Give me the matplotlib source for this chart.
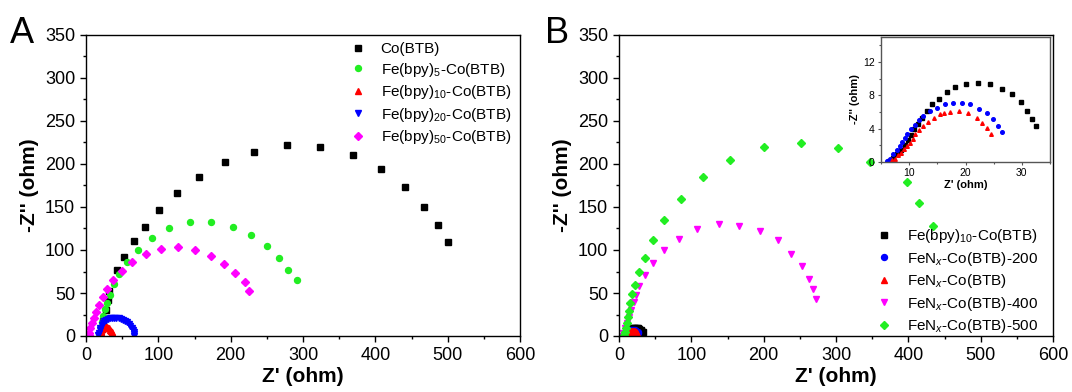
"""Nyquist plots (EIS) for Co(BTB) derived samples, panels A and B with inset."""
import matplotlib
matplotlib.use("Agg")
import matplotlib.pyplot as plt
from matplotlib.ticker import MultipleLocator

# ---- panel A data (Z', -Z'') ------------------------------------------- #
co_x = [20, 22, 24, 27, 30, 32, 43.5, 53.1, 66.5, 82.2, 100.9, 126.2, 156.8,
        191.7, 231.9, 277.3, 324.1, 369.1, 408.3, 441.3, 467.6, 486.7, 500.6]
co_y = [2, 8, 18, 30, 42, 52.7, 76.7, 91.9, 110.1, 127.1, 146.5, 166.3, 184.5,
        201.9, 214.3, 221.7, 219.4, 210.9, 193.8, 172.9, 150, 129, 109.3]

fe5_x = [19, 19.6, 20.6, 22, 23.9, 26.3, 29.2, 32.5, 38.2, 45.9, 56.4, 71.7,
         91.3, 115.2, 143.9, 173.5, 202.7, 228.5, 249.6, 266.8, 279.7, 291.1]
fe5_y = [1.2, 5, 10.9, 16.7, 23.3, 31, 38.8, 47.7, 60.1, 72.1, 85.7, 100,
         114.3, 125.2, 132.2, 132.2, 127.1, 117.1, 104.3, 90.7, 77.1, 64.7]

fe10_x = [19, 19.5, 20.2, 21, 22, 23.2, 24.5, 26, 27.5, 29, 30.5, 32, 33.3,
          34.5, 35.5, 36.3, 37]
fe10_y = [0.5, 2.5, 4.5, 6.3, 7.8, 9, 9.9, 10.4, 10.5, 10.3, 9.7, 8.8, 7.5,
          6, 4.3, 2.5, 0.8]

fe20_x = [17, 17.8, 18.8, 20, 21.5, 23, 25, 27.5, 30, 33, 36, 39, 42, 45, 48,
          51, 54, 56.8, 59.2, 61.3, 63, 64.6, 65.8, 66.6, 67]
fe20_y = [0.8, 3.5, 6.5, 9.5, 12.3, 14.8, 16.9, 18.6, 19.7, 20.5, 20.9, 21,
          20.9, 20.6, 20, 19.1, 17.7, 16, 14, 11.8, 9.4, 6.9, 4.4, 2.2, 0.5]

fe50_x = [3.8, 4.8, 6.2, 8.1, 11, 14.3, 18.2, 22.9, 29.2, 37.3, 49.2, 64.1,
          82.7, 103.7, 127.6, 151.1, 173.1, 190.8, 206.1, 219.4, 225.2]
fe50_y = [0.8, 3.9, 8.9, 14.7, 21.3, 28.3, 36, 45, 54.3, 65.1, 76, 86.4,
          95.3, 100.8, 103.1, 100, 93, 83.3, 73.3, 62.8, 52.7]

# ---- panel B data ------------------------------------------------------ #
b10_x = [6.4, 7.2, 7.9, 8.5, 9.2, 9.8, 10.4, 10.9, 11.5, 12.2, 13.1, 14.1,
         15.3, 16.8, 18.2, 20.1, 22.2, 24.4, 26.4, 28.2, 29.8, 30.9, 31.8, 32.6]
b10_y = [0.1, 0.5, 0.9, 1.4, 2.0, 2.6, 3.2, 3.9, 4.6, 5.3, 6.1, 6.9,
         7.6, 8.4, 9.0, 9.3, 9.5, 9.3, 8.8, 8.2, 7.2, 6.1, 5.1, 4.3]

n200_x = [6.1, 6.6, 7.2, 7.8, 8.3, 8.8, 9.2, 9.7, 10.3, 11.0, 11.8, 12.5,
          13.7, 14.9, 16.3, 17.8, 19.3, 20.8, 22.4, 23.8, 24.9, 25.8, 26.4]
n200_y = [0.1, 0.4, 0.9, 1.4, 1.9, 2.4, 2.9, 3.4, 3.9, 4.4, 5.0, 5.5,
          6.1, 6.5, 7.0, 7.1, 7.1, 6.9, 6.4, 5.9, 5.1, 4.3, 3.6]

n300_x = [6.9, 7.5, 8.0, 8.6, 9.1, 9.6, 10.1, 10.6, 11.1, 11.7, 12.5, 13.4,
          14.4, 15.5, 16.2, 17.3, 18.9, 20.5, 22.0, 23.0, 23.8, 24.6]
n300_y = [0.2, 0.4, 0.8, 1.1, 1.5, 1.9, 2.3, 2.8, 3.3, 3.8, 4.3, 4.8,
          5.3, 5.7, 5.9, 6.0, 6.1, 5.9, 5.3, 4.7, 4.1, 3.4]

n400_x = [4.7, 6.1, 8.5, 10.8, 13.7, 17, 20.3, 24, 28.3, 35.8, 46.7, 61.7,
          82.5, 107.9, 137.6, 165.9, 194.7, 219.6, 238, 252.6, 262, 268.2, 272.4]
n400_y = [0.4, 3.5, 8.9, 15.1, 22.4, 30.5, 39, 47.9, 58.3, 71.5, 85.4, 100.1,
          112.8, 124.8, 129.8, 128.3, 121.7, 111.3, 95.4, 81.1, 66.8, 54.1, 42.9]

n500_x = [7.5, 8.5, 9.4, 10.4, 11.8, 13.2, 15.6, 18.4, 22.2, 27.8, 35.3, 46.7,
          62.7, 85.3, 115.9, 154.1, 200.8, 252.2, 303.1, 346.4, 398.7, 415.2, 433.6]
n500_y = [1.2, 4.2, 9.3, 15, 21.6, 29.4, 38.2, 48.7, 59.5, 74.9, 91.2, 112,
          135.2, 159.2, 184.7, 205.1, 220.2, 224.1, 218.3, 202, 179.2, 154.5, 127.5]

GREEN = "#22ee22"

plt.rcParams.update({"font.family": ["Liberation Sans", "DejaVu Sans"],
                     "mathtext.fontset": "custom",
                     "mathtext.rm": "Liberation Sans",
                     "mathtext.it": "Liberation Sans:italic",
                     "mathtext.bf": "Liberation Sans:bold",
                     "font.size": 13})


def style_main(ax):
    ax.set_xlim(0, 600)
    ax.set_ylim(0, 350)
    ax.xaxis.set_major_locator(MultipleLocator(100))
    ax.xaxis.set_minor_locator(MultipleLocator(50))
    ax.yaxis.set_major_locator(MultipleLocator(50))
    ax.yaxis.set_minor_locator(MultipleLocator(25))
    ax.tick_params(which="both", direction="out", labelsize=13, width=1)
    ax.tick_params(which="major", length=4.3)
    ax.tick_params(which="minor", length=2.2)
    ax.set_xlabel("Z' (ohm)", fontsize=15, fontweight="bold", labelpad=2)
    ax.set_ylabel("-Z'' (ohm)", fontsize=15, fontweight="bold", labelpad=4)
    for sp in ax.spines.values():
        sp.set_linewidth(1.0)


fig = plt.figure(figsize=(10.72, 3.92), dpi=100)
axA = fig.add_axes([86 / 1072, 1 - 336 / 392, 434 / 1072, 301 / 392])
axB = fig.add_axes([619 / 1072, 1 - 336 / 392, 434 / 1072, 301 / 392])

ms = 4.3
axA.plot(co_x, co_y, "s", color="black", ms=ms, label="Co(BTB)")
axA.plot(fe5_x, fe5_y, "o", color=GREEN, ms=ms, label=r"Fe(bpy)$_{5}$-Co(BTB)")
axA.plot(fe10_x, fe10_y, "^", color="red", ms=ms, label=r"Fe(bpy)$_{10}$-Co(BTB)")
axA.plot(fe20_x, fe20_y, "v", color="blue", ms=ms, label=r"Fe(bpy)$_{20}$-Co(BTB)")
axA.plot(fe50_x, fe50_y, "D", color="magenta", ms=ms - 0.6, label=r"Fe(bpy)$_{50}$-Co(BTB)")
style_main(axA)
axA.legend(loc="upper left", bbox_to_anchor=(350 / 1072, 1 - 42 / 392),
           bbox_transform=fig.transFigure, frameon=False, fontsize=11,
           handlelength=1.0, handletextpad=1.0, labelspacing=0.3,
           borderpad=0, borderaxespad=0)

axB.plot(b10_x, b10_y, "s", color="black", ms=ms, label=r"Fe(bpy)$_{10}$-Co(BTB)")
axB.plot(n200_x, n200_y, "o", color="blue", ms=ms, label=r"FeN$_{x}$-Co(BTB)-200")
axB.plot(n300_x, n300_y, "^", color="red", ms=ms, label=r"FeN$_{x}$-Co(BTB)")
axB.plot(n400_x, n400_y, "v", color="magenta", ms=ms, label=r"FeN$_{x}$-Co(BTB)-400")
axB.plot(n500_x, n500_y, "D", color=GREEN, ms=ms - 0.6, label=r"FeN$_{x}$-Co(BTB)-500")
style_main(axB)
axB.legend(loc="upper left", bbox_to_anchor=(876 / 1072, 1 - 227 / 392),
           bbox_transform=fig.transFigure, frameon=False, fontsize=11,
           handlelength=1.0, handletextpad=1.0, labelspacing=0.3,
           borderpad=0, borderaxespad=0)

# inset: zoom on the small arcs
axi = fig.add_axes([881 / 1072, 1 - 162 / 392, 169 / 1072, 125 / 392])
axi.plot(b10_x, b10_y, "s", color="black", ms=2.6)
axi.plot(n200_x, n200_y, "o", color="blue", ms=2.6)
axi.plot(n300_x, n300_y, "^", color="red", ms=2.6)
axi.set_xlim(5, 35)
axi.set_ylim(0, 15)
axi.xaxis.set_major_locator(MultipleLocator(10))
axi.xaxis.set_minor_locator(MultipleLocator(5))
axi.yaxis.set_major_locator(MultipleLocator(4))
axi.yaxis.set_minor_locator(MultipleLocator(2))
axi.tick_params(which="both", direction="out", labelsize=7.5, width=0.8,
                color="#555555", pad=2)
axi.tick_params(which="major", length=2.5)
axi.tick_params(which="minor", length=1.3)
axi.set_xlabel("Z' (ohm)", fontsize=8, fontweight="bold", labelpad=1)
axi.set_ylabel("-Z'' (ohm)", fontsize=8, fontweight="bold", labelpad=2)
for sp in axi.spines.values():
    sp.set_color("#555555")
    sp.set_linewidth(1.0)

fig.text(10 / 1072, 1 - 43 / 392, "A", fontsize=26, va="baseline", ha="left")
fig.text(545 / 1072, 1 - 43 / 392, "B", fontsize=26, va="baseline", ha="left")

fig.savefig("out.png", dpi=100)
